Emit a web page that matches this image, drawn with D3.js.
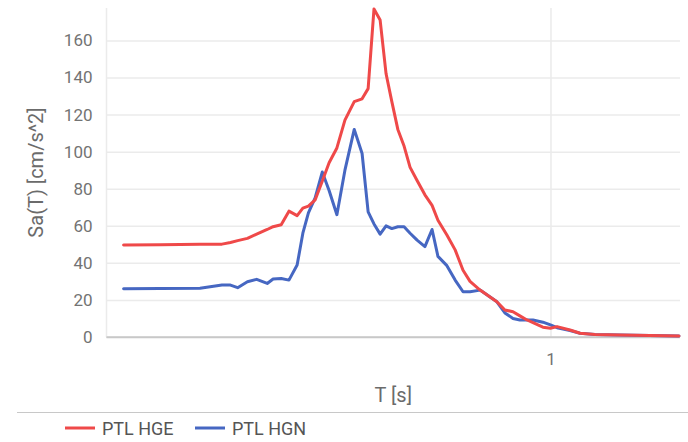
<!DOCTYPE html>
<html>
<head>
<meta charset="utf-8">
<script src="https://cdn.jsdelivr.net/npm/d3@7"></script>
<style>
  body { margin: 0; background: #fff; }
  svg { display: block; font-family: Roboto, Arial, sans-serif; }
</style>
</head>
<body>
<svg id="chart" width="688" height="442"></svg>
<script>
// Response spectrum Sa(T) for the two horizontal components of station PTL
const periods = [0.100, 0.122, 0.151, 0.170, 0.178, 0.185, 0.195, 0.205, 0.217, 0.224,
                 0.234, 0.244, 0.255, 0.263, 0.271, 0.281, 0.292, 0.303, 0.316, 0.330,
                 0.347, 0.362, 0.374, 0.386, 0.399, 0.412, 0.425, 0.439, 0.454, 0.469,
                 0.487, 0.508, 0.528, 0.545, 0.572, 0.598, 0.624, 0.648, 0.684, 0.749,
                 0.782, 0.817, 0.848, 0.881, 0.910, 0.960, 1.000, 1.036, 1.111, 1.173,
                 1.271, 1.455, 1.710, 2.000];

const saHGE = [49.6, 49.8, 50.0, 50.1, 51.0, 52.0, 53.2, 55.5, 58.0, 59.5,
               60.6, 67.9, 65.5, 69.5, 70.6, 74.0, 84.0, 94.0, 102.0, 117.0,
               127.0, 128.5, 134.0, 177.0, 171.0, 142.0, 127.0, 112.0, 103.0, 91.5,
               84.4, 76.7, 71.0, 63.0, 55.0, 47.0, 36.0, 30.0, 25.3, 19.0,
               14.6, 13.6, 11.4, 9.2, 7.8, 5.3, 4.7, 5.6, 3.8, 2.0,
               1.4, 1.1, 0.8, 0.5];

const saHGN = [26.0, 26.1, 26.3, 28.0, 28.0, 26.6, 29.8, 31.1, 28.9, 31.3,
               31.6, 30.7, 38.8, 56.0, 67.0, 75.0, 89.0, 79.0, 66.0, 90.0,
               112.0, 99.0, 67.5, 61.0, 55.5, 60.0, 58.5, 59.5, 59.5, 56.0,
               52.3, 48.8, 58.0, 43.5, 38.5, 30.7, 24.4, 24.4, 25.3, 19.0,
               13.0, 10.0, 9.2, 9.2, 9.2, 8.0, 6.5, 5.0, 3.5, 2.0,
               1.4, 1.1, 0.8, 0.5];

const seriesNames = ["PTL HGE", "PTL HGN"];
const seriesColors = ["#ef4949", "#4667c2"];
const yTickValues = [0, 20, 40, 60, 80, 100, 120, 140, 160];
const xTickValues = [1];
const xTitle = "T [s]";
const yTitle = "Sa(T) [cm/s^2]";

const svg = d3.select("#chart");
const plot = { left: 106.5, right: 680, top: 8, bottom: 337 };

const x = d3.scaleLog().domain([0.0912, 2.011]).range([plot.left, plot.right]);
const y = d3.scaleLinear().domain([0, 177.5]).range([plot.bottom, plot.top]);

// horizontal gridlines + y tick labels
const yAxis = d3.axisLeft(y)
  .tickValues(yTickValues)
  .tickSize(-(plot.right - plot.left))
  .tickPadding(14)
  .tickFormat(d3.format("d"));
const gy = svg.append("g")
  .attr("transform", `translate(${plot.left},0)`)
  .call(yAxis);
gy.select(".domain").remove();
gy.selectAll(".tick line")
  .attr("stroke", d => d === 0 ? "#c8c8c8" : "#ebebeb")
  .attr("stroke-width", 1.5);
gy.selectAll(".tick text")
  .attr("fill", "#737373")
  .style("font-size", "17px")
  .style("font-family", "Roboto, Arial, sans-serif");

// vertical gridlines (left edge and x ticks) + x tick labels
svg.append("line")
  .attr("x1", plot.left).attr("x2", plot.left)
  .attr("y1", plot.top).attr("y2", plot.bottom)
  .attr("stroke", "#ebebeb").attr("stroke-width", 1.5);

const xAxis = d3.axisBottom(x)
  .tickValues(xTickValues)
  .tickSize(-(plot.bottom - plot.top))
  .tickPadding(16)
  .tickFormat(d3.format("d"));
const gx = svg.append("g")
  .attr("transform", `translate(0,${plot.bottom})`)
  .call(xAxis);
gx.select(".domain").remove();
gx.selectAll(".tick line").attr("stroke", "#ebebeb").attr("stroke-width", 1.5);
gx.selectAll(".tick text")
  .attr("fill", "#737373")
  .style("font-size", "17px")
  .style("font-family", "Roboto, Arial, sans-serif");

// redraw baseline above the vertical gridlines
svg.append("line")
  .attr("x1", plot.left).attr("x2", plot.right)
  .attr("y1", y(0)).attr("y2", y(0))
  .attr("stroke", "#c8c8c8").attr("stroke-width", 1.5);

// series lines
const seriesValues = [saHGE, saHGN];
const line = d3.line()
  .x(d => x(d[0]))
  .y(d => y(d[1]));

// draw HGN first so HGE sits on top
[1, 0].forEach(i => {
  const pts = periods.map((t, k) => [t, seriesValues[i][k]]);
  svg.append("path")
    .datum(pts)
    .attr("fill", "none")
    .attr("stroke", seriesColors[i])
    .attr("stroke-width", 3)
    .attr("stroke-linejoin", "round")
    .attr("stroke-linecap", "round")
    .attr("d", line);
});

// axis titles
svg.append("text")
  .attr("x", (plot.left + plot.right) / 2)
  .attr("y", 402)
  .attr("text-anchor", "middle")
  .attr("fill", "#6b6b6b")
  .style("font-size", "20px")
  .text(xTitle);

svg.append("text")
  .attr("transform", `translate(43,${(plot.top + plot.bottom) / 2}) rotate(-90)`)
  .attr("text-anchor", "middle")
  .attr("fill", "#6b6b6b")
  .style("font-size", "20px")
  .text(yTitle);

// legend with separator rule
svg.append("line")
  .attr("x1", 17).attr("x2", 688)
  .attr("y1", 412.5).attr("y2", 412.5)
  .attr("stroke", "#c8c8c8").attr("stroke-width", 1);

const legendX = [65, 195];
seriesNames.forEach((name, i) => {
  const g = svg.append("g").attr("transform", `translate(${legendX[i]},428)`);
  g.append("line")
    .attr("x1", 0).attr("x2", 30)
    .attr("y1", 0).attr("y2", 0)
    .attr("stroke", seriesColors[i]).attr("stroke-width", 3);
  g.append("text")
    .attr("x", 37).attr("y", 6.5)
    .attr("fill", "#555")
    .style("font-size", "18px")
    .text(name);
});
</script>
</body>
</html>
